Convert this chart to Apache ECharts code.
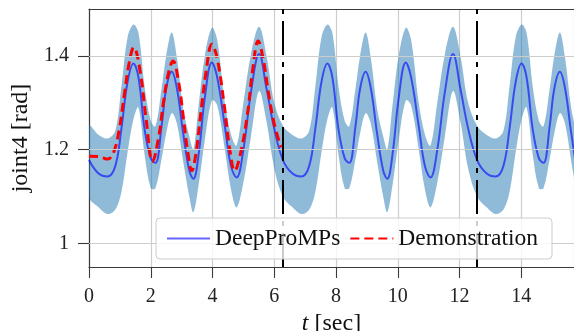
<!DOCTYPE html>
<html><head><meta charset="utf-8">
<script src="https://cdn.jsdelivr.net/npm/echarts@6/dist/echarts.min.js"></script>
<style>html,body{margin:0;padding:0;background:#fff}#c{width:574px;height:331px}</style>
</head><body><div id="c"></div>
<script>
// time samples (sec)
const tSamples = [0.00,0.30,0.60,0.85,1.05,1.25,1.44,1.60,1.80,2.00,2.15,2.35,2.50,2.68,2.85,3.05,3.25,3.38,3.55,3.75,3.98,4.15,4.40,4.60,4.78,5.00,5.25,5.51,5.75,6.00,
  6.28,6.58,6.88,7.13,7.33,7.53,7.72,7.88,8.08,8.28,8.43,8.63,8.78,8.96,9.13,9.33,9.53,9.66,9.83,10.03,10.26,10.43,10.68,10.88,11.06,11.28,11.53,11.79,12.03,12.28,
  12.57,12.87,13.17,13.42,13.62,13.82,14.01,14.17,14.37,14.57,14.72,14.92,15.07,15.25,15.42,15.62,15.82,15.95];
// DeepProMPs mean
const meanValues = [1.178,1.150,1.143,1.165,1.245,1.345,1.384,1.355,1.244,1.182,1.172,1.250,1.330,1.366,1.330,1.235,1.155,1.138,1.190,1.310,1.386,1.355,1.250,1.165,1.141,1.200,1.325,1.404,1.330,1.245,
  1.178,1.150,1.143,1.165,1.245,1.345,1.384,1.355,1.244,1.182,1.172,1.250,1.330,1.366,1.330,1.235,1.155,1.138,1.190,1.310,1.386,1.355,1.250,1.165,1.141,1.200,1.325,1.404,1.330,1.245,
  1.178,1.150,1.143,1.165,1.245,1.345,1.384,1.355,1.244,1.182,1.172,1.250,1.330,1.366,1.330,1.235,1.155,1.138];
// band upper edge
const upperValues = [1.251,1.232,1.224,1.240,1.335,1.440,1.467,1.450,1.335,1.262,1.250,1.330,1.400,1.450,1.395,1.288,1.228,1.201,1.295,1.400,1.460,1.435,1.300,1.232,1.209,1.300,1.405,1.462,1.400,1.300,
  1.251,1.232,1.224,1.240,1.335,1.440,1.467,1.450,1.335,1.262,1.250,1.330,1.400,1.450,1.395,1.288,1.228,1.201,1.295,1.400,1.460,1.435,1.300,1.232,1.209,1.300,1.405,1.462,1.400,1.300,
  1.251,1.232,1.224,1.240,1.335,1.440,1.467,1.450,1.335,1.262,1.250,1.330,1.400,1.450,1.395,1.288,1.228,1.201];
// band lower edge
const lowerValues = [1.100,1.078,1.063,1.072,1.110,1.195,1.265,1.290,1.190,1.118,1.118,1.180,1.235,1.278,1.255,1.175,1.100,1.067,1.125,1.220,1.305,1.295,1.200,1.115,1.077,1.130,1.230,1.325,1.260,1.160,
  1.100,1.078,1.063,1.072,1.110,1.195,1.265,1.290,1.190,1.118,1.118,1.180,1.235,1.278,1.255,1.175,1.100,1.067,1.125,1.220,1.305,1.295,1.200,1.115,1.077,1.130,1.230,1.325,1.260,1.160,
  1.100,1.078,1.063,1.072,1.110,1.195,1.265,1.290,1.190,1.118,1.118,1.180,1.235,1.278,1.255,1.175,1.100,1.067];
// Demonstration
const demoT = [0.00,0.35,0.60,0.80,0.97,1.15,1.30,1.45,1.65,1.85,2.06,2.25,2.41,2.58,2.72,2.90,3.06,3.20,3.33,3.46,3.60,3.80,3.98,4.15,4.37,4.55,4.72,4.90,5.13,5.30,5.48,5.65,5.81,6.00,6.22];
const demoValues = [1.186,1.185,1.180,1.195,1.240,1.320,1.385,1.418,1.370,1.265,1.175,1.225,1.300,1.365,1.389,1.345,1.266,1.195,1.155,1.190,1.266,1.370,1.425,1.395,1.300,1.205,1.155,1.190,1.275,1.370,1.432,1.390,1.322,1.255,1.205];
// phase boundaries
const phaseMarks = [6.2832, 12.5664];
const xTicks = [0,2,4,6,8,10,12,14];
const yTicks = [1, 1.2, 1.4];
const xRange = [0, 15.708];
const yRange = [0.95, 1.5];

const FONT = "'Liberation Serif', 'DejaVu Serif', serif";
const pairs = (xs, ys) => xs.map((x, i) => [x, ys[i]]);

const chart = echarts.init(document.getElementById('c'));
chart.setOption({
  animation: false,
  backgroundColor: '#ffffff',
  grid: { left: 89, right: 0, top: 9, bottom: 64, containLabel: false, outerBoundsMode: 'none' },
  xAxis: [{
    type: 'value', min: xRange[0], max: xRange[1], interval: 2,
    name: '{i|t} [sec]', nameLocation: 'middle', nameGap: 40,
    nameTextStyle: { fontFamily: FONT, fontSize: 24, color: '#111',
      rich: { i: { fontFamily: FONT, fontSize: 24, fontStyle: 'italic', color: '#111' } } },
    axisLine: { show: true, lineStyle: { color: '#3a3a3a', width: 1.2 } },
    axisTick: { show: true, inside: false, length: 11, lineStyle: { color: '#3a3a3a', width: 1.1 } },
    axisLabel: { show: true, margin: 20, fontFamily: FONT, fontSize: 20, color: '#222', showMaxLabel: false,
      formatter: v => (xTicks.indexOf(v) >= 0 ? String(v) : '') },
    splitLine: { show: true, lineStyle: { color: '#cdcdcd', width: 1.2 } }
  }, {
    type: 'value', position: 'top', min: xRange[0], max: xRange[1],
    axisLine: { show: true, lineStyle: { color: '#3a3a3a', width: 1.2 } },
    axisTick: { show: false }, axisLabel: { show: false }, splitLine: { show: false }
  }],
  yAxis: {
    type: 'value', min: yRange[0], max: yRange[1],
    name: 'joint4 [rad]', nameLocation: 'middle', nameGap: 54, nameRotate: 90,
    nameTextStyle: { fontFamily: FONT, fontSize: 24, color: '#111' },
    axisLine: { show: true, lineStyle: { color: '#3a3a3a', width: 1.2 } },
    axisTick: { show: true, length: 11, customValues: yTicks, lineStyle: { color: '#3a3a3a', width: 1.1 } },
    axisLabel: { show: true, margin: 20, fontFamily: FONT, fontSize: 20, color: '#222', customValues: yTicks,
      formatter: v => String(v) },
    splitLine: { show: false }
  },
  legend: {
    z: 20,
    data: ['DeepProMPs', 'Demonstration'],
    left: 156, top: 218,
    padding: [8, 14, 8, 10],
    itemGap: 9, itemWidth: 43, itemHeight: 14,
    itemStyle: { opacity: 0 },
    backgroundColor: 'rgba(255,255,255,0.8)', borderColor: '#cccccc', borderWidth: 1, borderRadius: 4,
    textStyle: { fontFamily: FONT, fontSize: 23.5, color: '#111', lineHeight: 25 }
  },
  series: [
    {
      name: 'gridY', type: 'line', data: [], symbol: 'none', silent: true, z: 1,
      markLine: { silent: true, symbol: 'none', label: { show: false },
        lineStyle: { color: '#cdcdcd', width: 1.2, type: 'solid' },
        data: yTicks.map(v => ({ yAxis: v })) }
    },
    {
      name: 'band', type: 'custom', silent: true, z: 2, clip: true,
      data: [[tSamples[0], upperValues[0]]],
      renderItem: function (params, api) {
        const pts = [];
        for (let i = 0; i < tSamples.length; i++) pts.push(api.coord([tSamples[i], upperValues[i]]));
        for (let i = tSamples.length - 1; i >= 0; i--) pts.push(api.coord([tSamples[i], lowerValues[i]]));
        return { type: 'polygon', shape: { points: pts, smooth: 0.35 },
          style: { fill: 'rgba(31,119,180,0.5)', stroke: null } };
      }
    },
    {
      name: 'DeepProMPs', type: 'line', data: pairs(tSamples, meanValues),
      smooth: 0.4, symbol: 'none', z: 3,
      lineStyle: { color: 'rgba(0,0,255,0.6)', width: 2 }, itemStyle: { color: 'rgba(0,0,255,0.6)' }
    },
    {
      name: 'Demonstration', type: 'line', data: pairs(demoT, demoValues),
      smooth: 0.4, symbol: 'none', z: 4,
      lineStyle: { color: '#ff0000', width: 3, type: [9, 5] }, itemStyle: { color: '#ff0000' }
    },
    {
      name: 'phases', type: 'line', data: [], symbol: 'none', silent: true, z: 5,
      markLine: { silent: true, symbol: 'none', label: { show: false },
        lineStyle: { color: '#000', width: 2, type: [34, 7, 5, 7] },
        data: phaseMarks.map(v => ({ xAxis: v })) }
    }
  ]
});
</script></body></html>
